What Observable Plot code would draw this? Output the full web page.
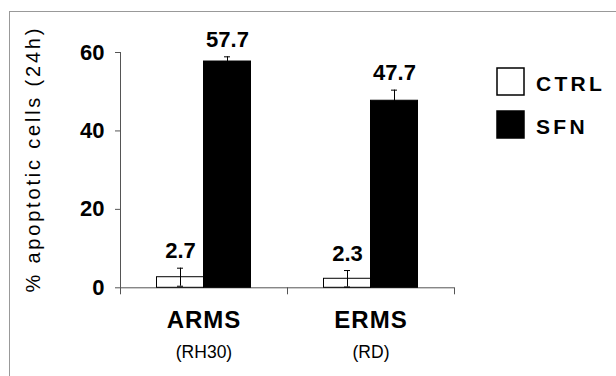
<!DOCTYPE html>
<html><head><meta charset="utf-8">
<script src="https://cdn.jsdelivr.net/npm/d3@7"></script>
<script src="https://cdn.jsdelivr.net/npm/@observablehq/plot@0.6"></script>
<style>
body{margin:0;background:#fff;}
#wrap{position:relative;width:616px;height:376px;overflow:hidden;font-family:Arial,"Liberation Sans",sans-serif;}
#border{position:absolute;left:9px;top:11px;right:-5px;bottom:-5px;border-left:1px solid #999;border-top:1px solid #999;}
#chart{position:absolute;left:0;top:0;}
#legend{position:absolute;left:497px;top:67px;width:119px;}
#legend > div{font-family:Arial,"Liberation Sans",sans-serif !important;font-size:21px !important;font-weight:bold;color:#000;margin:0 !important;}
#legend .lg-swatch{padding-bottom:14px !important;}
#legend .lg-swatch svg{margin-right:12px !important;overflow:visible;}
#legend .lg-swatch rect{stroke:#000;stroke-width:1.5px;}
#legend .lg-swatch-label{letter-spacing:3.3px;padding-top:5px;overflow:visible !important;}
</style></head><body>
<div id="wrap"><div id="border"></div><div id="chart"></div><div id="legend"></div></div>
<script>
const groups = ["ARMS", "ERMS"];
const cellLines = ["(RH30)", "(RD)"];
const conditions = ["CTRL", "SFN"];
const ctrlValues = [2.7, 2.3];
const sfnValues = [57.7, 47.7];
const ctrlErrors = [2.3, 2.1];
const sfnErrors = [1.2, 2.7];
const yTicks = [0, 20, 40, 60];
const yLabel = "% apoptotic cells (24h)";

const data = groups.flatMap((g, i) => [
  {group: g, cond: conditions[0], value: ctrlValues[i], err: ctrlErrors[i]},
  {group: g, cond: conditions[1], value: sfnValues[i], err: sfnErrors[i]}
]);
const groupInfo = groups.map((g, i) => ({group: g, line: cellLines[i]}));

const W = 616, H = 376, mL = 119.5, mR = 162, mT = 52, mB = 88.7;
const innerH = H - mT - mB;
const font = "Arial, 'Liberation Sans', sans-serif";
const axisColor = "#555";

const plot = Plot.plot({
  width: W, height: H,
  marginLeft: mL, marginRight: mR, marginTop: mT, marginBottom: mB,
  style: {fontFamily: font, background: "transparent", overflow: "visible", color: "#000"},
  fx: {domain: groups, padding: 0, axis: null},
  x: {domain: conditions, paddingInner: 0, paddingOuter: 0.763, axis: null},
  y: {domain: [0, 60], axis: null},
  color: {domain: conditions, range: ["#fff", "#000"]},
  marks: [
    Plot.ruleY([0], {stroke: axisColor, strokeWidth: 1}),
    Plot.frame({anchor: "left", facetAnchor: "left", insetBottom: -6, stroke: axisColor}),
    Plot.frame({anchor: "right", insetTop: innerH, insetBottom: -6, stroke: axisColor}),
    Plot.axisY(yTicks, {tickSize: 5, tickPadding: 11, fontSize: 22, fontWeight: "bold", stroke: axisColor, label: null}),
    Plot.text([yLabel], {frameAnchor: "left", facetAnchor: "left", textAnchor: "middle", lineAnchor: "middle", rotate: -90, dx: -87, dy: -11, fontSize: 20}),
    Plot.barY(data, {fx: "group", x: "cond", y: "value", fill: "cond", stroke: "#000", strokeWidth: 1}),
    Plot.ruleX(data, {fx: "group", x: "cond", y1: d => d.value - d.err, y2: d => d.value + d.err, stroke: "#000", strokeWidth: 1}),
    Plot.tickY(data, {fx: "group", x: "cond", y: d => d.value + d.err, insetLeft: 20.5, insetRight: 20.5, stroke: "#000", strokeWidth: 1}),
    Plot.tickY(data, {fx: "group", x: "cond", y: d => d.value - d.err, insetLeft: 20.5, insetRight: 20.5, stroke: "#000", strokeWidth: 1}),
    Plot.text(data, {fx: "group", x: "cond", y: d => d.value + d.err, text: d => d.value.toFixed(1), dy: -10, lineAnchor: "bottom", fontSize: 22, fontWeight: "bold"}),
    Plot.text(groupInfo, {fx: "group", frameAnchor: "bottom", text: "group", dy: 23.5, lineAnchor: "top", fontSize: 24, fontWeight: "bold"}),
    Plot.text(groupInfo, {fx: "group", frameAnchor: "bottom", text: "line", dy: 58, lineAnchor: "top", fontSize: 17.5})
  ]
});
d3.select(plot).selectAll("text").filter(function() { return this.textContent === yLabel; }).style("letter-spacing", "2.8px");
d3.select(plot).selectAll("text").filter(function() { return groups.includes(this.textContent); }).style("letter-spacing", "1px");
document.getElementById("chart").append(plot);

const legend = Plot.legend({
  color: {domain: conditions, range: ["#fff", "#000"]},
  legend: "swatches", columns: 1, swatchSize: 27, className: "lg"
});
document.getElementById("legend").append(legend);
</script>
</body></html>
